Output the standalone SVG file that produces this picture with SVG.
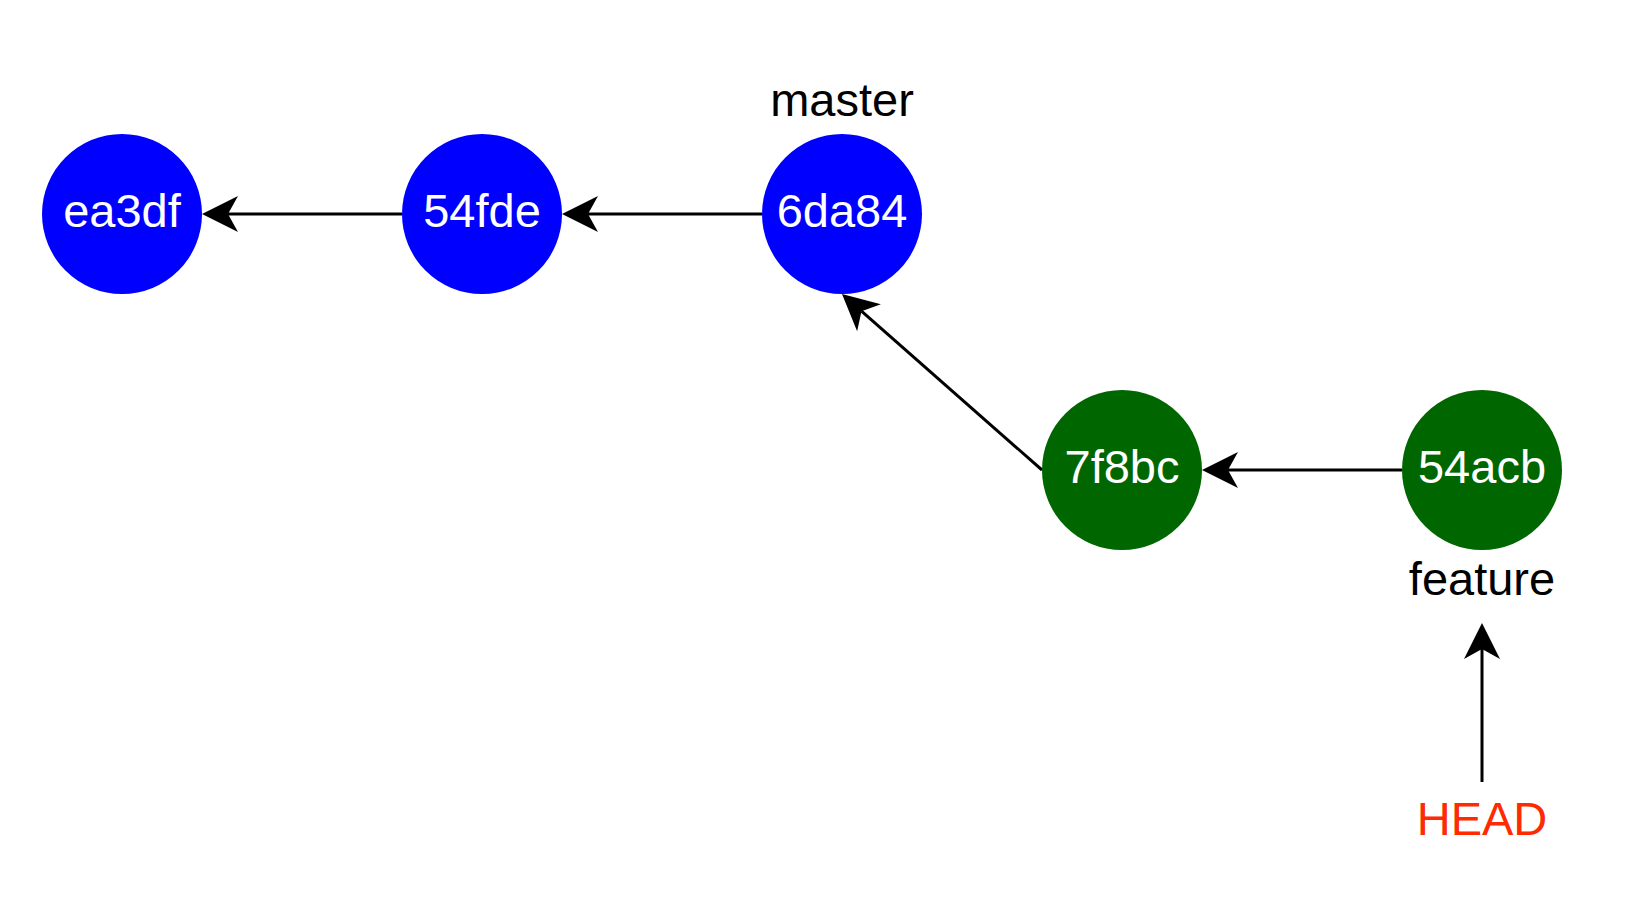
<svg xmlns="http://www.w3.org/2000/svg" width="1640" height="920" viewBox="0 0 1640 920">
<style>
.blue{fill:#0000FF}
.green{fill:#006600}
.ntext{font-family:"Liberation Sans",Arial,sans-serif;font-size:47px;fill:#FFFFFF;text-anchor:middle}
.label{font-family:"Liberation Sans",Arial,sans-serif;font-size:47px;fill:#000000;text-anchor:middle}
.head{font-family:"Liberation Sans",Arial,sans-serif;font-size:47px;fill:#FF2A00;text-anchor:middle}
.edge{stroke:#000000;stroke-width:3;fill:none}
</style>
<defs>
<marker id="arrow" markerUnits="userSpaceOnUse" viewBox="-36 -18 36 36" markerWidth="36" markerHeight="36" refX="-26" refY="0" orient="auto" overflow="visible">
<path d="M0,0 L-36,-18 L-26,0 L-36,18 Z" fill="#000000"/>
</marker>
</defs>
<rect width="1640" height="920" fill="#FFFFFF"/>
<g id="connectors">
<line class="edge" x1="402" y1="214" x2="228" y2="214" marker-end="url(#arrow)"/>
<line class="edge" x1="762" y1="214" x2="588" y2="214" marker-end="url(#arrow)"/>
<line class="edge" x1="1042" y1="470" x2="861.5" y2="311.2" marker-end="url(#arrow)"/>
<line class="edge" x1="1402" y1="470" x2="1228" y2="470" marker-end="url(#arrow)"/>
<line class="edge" x1="1482" y1="782" x2="1482" y2="649" marker-end="url(#arrow)"/>
</g>
<g id="ea3df">
<circle class="blue" cx="122" cy="214" r="80"/>
<text class="ntext" x="122" y="227">ea3df</text>
</g>
<g id="54fde">
<circle class="blue" cx="482" cy="214" r="80"/>
<text class="ntext" x="482" y="227">54fde</text>
</g>
<g id="6da84">
<circle class="blue" cx="842" cy="214" r="80"/>
<text class="ntext" x="842" y="227">6da84</text>
</g>
<g id="7f8bc">
<circle class="green" cx="1122" cy="470" r="80"/>
<text class="ntext" x="1122" y="483">7f8bc</text>
</g>
<g id="54acb">
<circle class="green" cx="1482" cy="470" r="80"/>
<text class="ntext" x="1482" y="483">54acb</text>
</g>
<g id="master">
<text class="label" x="842" y="116">master</text>
</g>
<g id="feature">
<text class="label" x="1482" y="595">feature</text>
</g>
<g id="HEAD">
<text class="head" x="1482" y="835">HEAD</text>
</g>
</svg>
